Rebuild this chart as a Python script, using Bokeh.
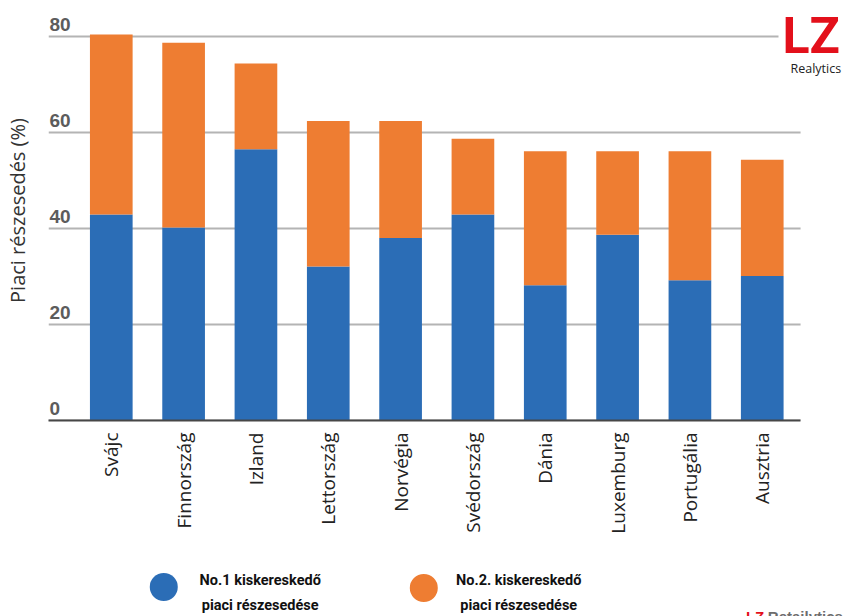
import numpy as np
from bokeh.plotting import figure
from bokeh.layouts import column
from bokeh.models import ColumnDataSource, Range1d, FixedTicker, Label, BoxAnnotation
from bokeh.core.properties import value
from bokeh.embed import file_html
from bokeh.resources import INLINE

# Market share of the two largest grocery retailers by country (%)
countries = ["Svájc", "Finnország", "Izland", "Lettország", "Norvégia",
             "Svédország", "Dánia", "Luxemburg", "Portugália", "Ausztria"]
no1_share = [42.9, 40.2, 56.5, 32.1, 38.0, 42.9, 28.2, 38.7, 29.2, 30.1]
no2_share = [37.5, 38.5, 17.9, 30.3, 24.4, 15.8, 27.9, 17.4, 26.9, 24.2]
y_ticks = [0, 20, 40, 60, 80]
legend_labels = ["No.1 kiskereskedő\npiaci részesedése", "No.2. kiskereskedő\npiaci részesedése"]

BLUE = "#2b6db6"
ORANGE = "#ee7d32"
COND = value("Roboto")

idx = list(range(len(countries)))
src = ColumnDataSource(dict(idx=idx, no1=no1_share, no2=no2_share))

X_START, X_AXIS_END, X_END = -0.868, 9.53, 10.234

p = figure(width=851, height=556, output_backend="svg", toolbar_location=None,
           x_range=Range1d(X_START, X_END), y_range=Range1d(0, 87.5),
           min_border_left=45, min_border_right=0, min_border_top=0,
           min_border_bottom=136)
p.outline_line_color = None
p.background_fill_color = "white"
p.border_fill_color = "white"

# horizontal gridlines, ending where the category axis ends
p.grid.grid_line_color = None
p.segment(x0=[X_START] * len(y_ticks), x1=[X_AXIS_END] * len(y_ticks),
          y0=y_ticks, y1=y_ticks, line_color="#b4b4b4", line_width=2,
          level="underlay")

p.vbar_stack(["no1", "no2"], x="idx", width=0.59, color=[BLUE, ORANGE],
             line_color=None, source=src)

# y axis: only the title is shown, tick values sit inside the plot area
p.yaxis.ticker = FixedTicker(ticks=y_ticks)
p.yaxis.axis_label = "Piaci részesedés (%)"
p.yaxis.axis_label_text_font = "Open Sans"
p.yaxis.axis_label_text_font_style = "normal"
p.yaxis.axis_label_text_font_size = "20px"
p.yaxis.axis_label_text_color = "#333333"
p.yaxis.axis_label_standoff = 12
p.yaxis.axis_line_color = None
p.yaxis.major_tick_line_color = None
p.yaxis.minor_tick_line_color = None
p.yaxis.major_label_text_font_size = "1px"
p.yaxis.major_label_text_alpha = 0
p.yaxis.major_label_standoff = 0

p.text(x=[X_START] * len(y_ticks), y=y_ticks, text=[str(t) for t in y_ticks],
       x_offset=1, y_offset=-6, text_baseline="bottom", text_align="left",
       text_font=value("Liberation Sans"), text_font_style="bold",
       text_font_size="19px", text_color="#5c5c5c")

# x axis with country names
p.xaxis.ticker = FixedTicker(ticks=idx)
p.xaxis.bounds = (X_START, X_AXIS_END)
p.xaxis.major_label_overrides = {i: c for i, c in zip(idx, countries)}
p.xaxis.major_label_orientation = np.pi / 2
p.xaxis.major_label_text_font = "Open Sans"
p.xaxis.major_label_text_font_size = "19px"
p.xaxis.major_label_text_color = "#222222"
p.xaxis.major_label_standoff = 6
p.xaxis.major_tick_line_color = None
p.xaxis.minor_tick_line_color = None
p.xaxis.axis_line_color = "#474747"
p.xaxis.axis_line_width = 2

# logo in the upper right corner
p.add_layout(BoxAnnotation(left=730, right=760, bottom=345, top=412,
                           left_units="screen", right_units="screen",
                           bottom_units="screen", top_units="screen",
                           fill_color="white", fill_alpha=1, line_color=None))
p.add_layout(Label(x=734, y=385, x_units="screen", y_units="screen", text="LZ",
                   text_font="Roboto", text_font_style="bold",
                   text_font_size="50px", text_color="#e3101b",
                   text_baseline="alphabetic"))
p.add_layout(Label(x=742, y=352, x_units="screen", y_units="screen", text="Realytics",
                   text_font="Open Sans", text_font_size="12.5px", text_color="#222222",
                   text_baseline="alphabetic"))

# legend strip below the chart (its frame lines up with the chart's: 45..851 px)
lg = figure(width=851, height=60, output_backend="svg", toolbar_location=None,
            x_range=Range1d(45, 851), y_range=Range1d(0, 60),
            min_border_left=45, min_border_right=0, min_border_top=0,
            min_border_bottom=0, x_axis_location=None, y_axis_location=None)
lg.outline_line_color = None
lg.grid.visible = False
lg.border_fill_color = "white"
lg.background_fill_color = "white"

lg.scatter(x=[160.7, 421.7], y=[29.5, 28.5], size=28, marker="circle",
           color=[BLUE, ORANGE], line_color=None)
lg.text(x=[257.5, 517], y=[36.5, 36.5], text=[t.split("\n")[0] for t in legend_labels],
        text_align="center", text_baseline="middle",
        text_font=COND, text_font_style="bold",
        text_font_size="14.5px", text_color="#111111")
lg.text(x=[257.5, 517], y=[11.5, 11.5], text=[t.split("\n")[1] for t in legend_labels],
        text_align="center", text_baseline="middle",
        text_font=COND, text_font_style="bold",
        text_font_size="14.5px", text_color="#111111")

lg.text(x=[745], y=[9], text=["LZ"], text_baseline="top",
        text_font=value("Liberation Sans"), text_font_style="bold",
        text_font_size="15px", text_color="#e3101b")
lg.text(x=[767], y=[9], text=["Retailytics"], text_baseline="top",
        text_font=value("Liberation Sans"), text_font_style="bold",
        text_font_size="15px", text_color="#6d6d6d")

layout = column(p, lg, spacing=0)
open("out.html", "w").write(file_html(layout, INLINE))
